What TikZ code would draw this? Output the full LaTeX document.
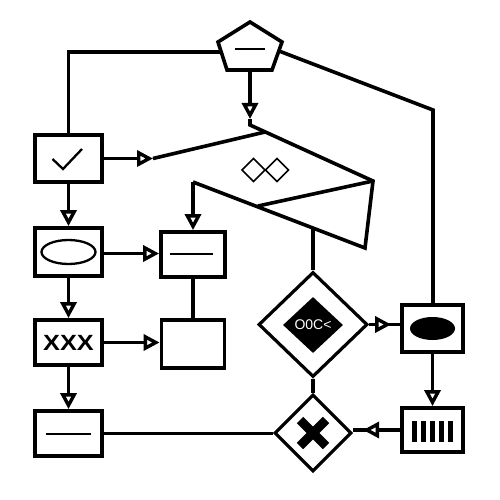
\documentclass[tikz,border=0pt]{standalone}
\usepackage{fontspec}
\setmainfont{Liberation Sans}
\usetikzlibrary{arrows.meta,shapes.geometric,calc}
\begin{document}
\begin{tikzpicture}[x=1pt,y=-1pt,
  lw/.style={line width=3.6pt, line join=miter},
  thin/.style={line width=2.3pt},
  box/.style={draw, line width=3.8pt, rectangle, inner sep=0pt},
  dia/.style={draw, diamond, line width=3.2pt, inner sep=0pt},
  arr/.style={line width=3.4pt, -{Triangle[length=16pt, width=16pt, fill=white]}}
]
\fill[white] (0,0) rectangle (500,500);
\useasboundingbox (0,0) rectangle (500,500);

% pentagon
\coordinate (p1) at (250,22);
\coordinate (p2) at (282,42);
\coordinate (p3) at (272,70);
\coordinate (p4) at (227,70);
\coordinate (p5) at (218,42);
\coordinate (pB) at (250,70);
\coordinate (pL) at (221,52);
\coordinate (pR) at (279,51);
\draw[lw] (p1) -- (p2) -- (p3) -- (p4) -- (p5) -- cycle;
\draw[thin] (235,49) -- (265,49);

% boxes
\node[box, minimum width=67pt, minimum height=47pt] (chk) at (68.5,158.5) {};
\node[box, minimum width=67pt, minimum height=48pt] (ell) at (68.5,252) {};
\node[box, minimum width=67pt, minimum height=45pt, font=\bfseries\fontsize{22}{22}\selectfont] (xxx) at (68.5,342.5) {\scalebox{1.15}[1]{XXX}};
\node[box, minimum width=67pt, minimum height=45pt] (bot) at (68.5,433.5) {};
\node[box, minimum width=64pt, minimum height=45pt] (dash) at (193,254.5) {};
\node[box, minimum width=63pt, minimum height=48pt] (empty) at (193,344) {};
\node[box, minimum width=61pt, minimum height=47pt] (rell) at (432.5,328.5) {};
\node[box, minimum width=61pt, minimum height=44pt] (bar) at (432.5,430) {};

% box contents
\draw[thin] ($(chk.center)+(-16,0.5)$) -- ($(chk.center)+(-5.5,10.5)$) -- ($(chk.center)+(13.5,-9.5)$);
\draw[thin] (ell.center) ellipse (27pt and 12pt);
\draw[thin] ($(bot.center)+(-23,0.5)$) -- ($(bot.center)+(22,0.5)$);
\draw[thin] ($(dash.center)+(-23,-0.5)$) -- ($(dash.center)+(20,-0.5)$);
\fill (rell.center) ellipse (22.5pt and 11.5pt);
\foreach \i in {0,...,4}
  \fill ($(bar.center)+(-20.5+9*\i,-9)$) rectangle +(5,21);

% diamonds
\node[dia, minimum width=109pt, minimum height=105pt] (big) at (313,324.5) {};
\node[diamond, fill=black, inner sep=0pt, minimum width=60pt, minimum height=56pt] (inner) at (313,325) {};
\node[text=white, font=\fontsize{14}{14}\selectfont] (code) at (313,325) {O0C<};
\node[dia, minimum width=77pt, minimum height=77pt] (small) at (313,433) {};
\draw[line width=9pt] ($(small.center)+(-13,-13)$) -- ($(small.center)+(13,13)$);
\draw[line width=9pt] ($(small.center)+(-13,13)$) -- ($(small.center)+(13,-13)$);

% central folded shape
\coordinate (t0) at (250,119);
\coordinate (t1) at (250,125);
\coordinate (t2) at (373,181);
\coordinate (t3) at (365,248);
\coordinate (t4) at (193,182);
\coordinate (t5) at (258,206);
\coordinate (tm) at (313,228);
\coordinate (tj) at (265,132);
\coordinate (ca) at (153,158.5);
\draw[lw] (t0) -- (t1) -- (t2) -- (t3) -- (t4);
\draw[lw] (t2) -- (t5);
\node[draw, diamond, line width=1.6pt, inner sep=0pt, minimum width=23.5pt, minimum height=23.5pt] (d1) at (253.5,170) {};
\node[draw, diamond, line width=1.6pt, inner sep=0pt, minimum width=23.5pt, minimum height=23.5pt] (d2) at (277,170) {};

% connectors
\coordinate (lt) at (68.5,52);
\coordinate (rt) at (433,110);
\coordinate (ea) at ($(ell.east)+(0,1.5)$);
\draw[lw] (pL) -- (lt) -- (chk.north);
\draw[lw] (pR) -- (rt) -- (rt |- rell.north);
\draw[arr] (pB) -- (t0);
\draw[arr] (t4) -- (dash.north);
\draw[arr] (chk.east) -- (ca);
\draw[lw] (ca) -- (tj);
\draw[arr] (chk.south) -- (ell.north);
\draw[arr] (ea) -- (ea -| dash.west);
\draw[arr] (ell.south) -- (xxx.north);
\draw[arr] (xxx.east) -- (xxx.east -| empty.west);
\draw[arr] (xxx.south) -- (bot.north);
\draw[lw] (dash.south) -- (empty.north);
\draw[lw] (bot.east) -- (bot.east -| small.west);
\draw[lw] (tm) -- (big.north);
\draw[lw] (big.south) -- (small.north);
\draw[lw] (big.east) -- (big.east -| rell.west);
\draw[arr] (big.east) -- ($(big.east -| rell.west)+(-9,0)$);
\draw[arr] (rell.south) -- (bar.north);
\draw[lw] (bar.west) -- (bar.west -| small.east);
\draw[arr] (bar.west) -- ($(bar.west -| small.east)+(10,0)$);
\end{tikzpicture}
\end{document}
